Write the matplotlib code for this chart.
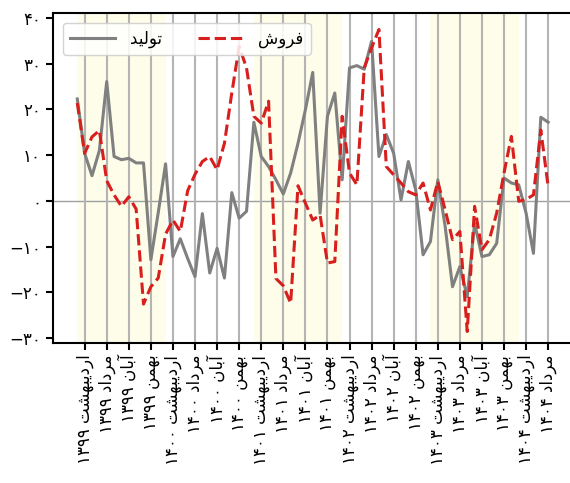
import matplotlib
matplotlib.use('Agg')
import matplotlib.pyplot as plt

plt.rcParams['font.family'] = ['DejaVu Sans']

# monthly growth, Farvardin 1399 .. Mordad 1404 (65 months)
production = [22.3, 10.4, 5.5, 11.0, 26.1, 9.7, 9.0, 9.3, 8.3, 8.3,
              -12.9, -2.6, 8.1, -12.2, -8.3, -12.6, -16.6, -2.8, -15.8, -10.4,
              -16.9, 1.8, -3.8, -2.3, 17.2, 9.7, 7.5, 4.6, 1.5, 6.1,
              12.6, 19.9, 28.1, -2.7, 18.5, 23.6, 4.6, 29.1, 29.6, 28.8,
              34.9, 9.7, 14.5, 10.4, 0.2, 8.6, 2.4, -11.8, -8.9, 4.6,
              -5.6, -18.8, -14.4, -21.0, -4.9, -12.2, -11.8, -9.3, 5.0, 3.9,
              3.5, -2.7, -11.5, 18.3, 17.2]
sales = [21.4, 10.4, 14.0, 15.4, 4.4, 1.3, -1.2, 0.9, -1.8, -22.6,
         -18.8, -16.9, -7.3, -4.2, -6.7, 2.2, 5.8, 8.6, 9.7, 6.8,
         12.6, 23.6, 33.8, 29.1, 18.5, 17.0, 21.8, -17.0, -18.6, -22.4,
         3.3, -0.5, -4.2, -3.1, -13.6, -13.3, 18.5, 6.1, 3.5, 29.1,
         33.5, 37.5, 7.5, 5.7, 3.9, 2.0, 1.3, 3.9, -2.0, 4.2,
         -2.0, -8.5, -6.7, -28.6, -1.2, -10.7, -8.5, -2.7, 6.1, 14.1,
         -0.1, 0.3, 1.3, 15.5, 3.1]
months = list(range(len(production)))

tick_pos = list(range(1, 65, 3))
tick_months = ['اردیبهشت', 'مرداد', 'آبان', 'بهمن'] * 5 + ['اردیبهشت', 'مرداد']
tick_years = ['1399'] * 4 + ['1400'] * 4 + ['1401'] * 4 + ['1402'] * 4 + ['1403'] * 4 + ['1404'] * 2
y_ticks = [-30, -20, -10, 0, 10, 20, 30, 40]
shade_spans = [(0, 12), (24, 36), (48, 60)]

# --- minimal Persian shaping (matplotlib has no RTL/complex text layout) ---
FORMS = {  # iso, final, initial, medial
    'ا': ('\uFE8D', '\uFE8E', None, None),
    'آ': ('\uFE81', '\uFE82', None, None),
    'د': ('\uFEA9', '\uFEAA', None, None),
    'ر': ('\uFEAD', '\uFEAE', None, None),
    'و': ('\uFEED', '\uFEEE', None, None),
    'ب': ('\uFE8F', '\uFE90', '\uFE91', '\uFE92'),
    'ت': ('\uFE95', '\uFE96', '\uFE97', '\uFE98'),
    'ش': ('\uFEB5', '\uFEB6', '\uFEB7', '\uFEB8'),
    'ف': ('\uFED1', '\uFED2', '\uFED3', '\uFED4'),
    'ل': ('\uFEDD', '\uFEDE', '\uFEDF', '\uFEE0'),
    'م': ('\uFEE1', '\uFEE2', '\uFEE3', '\uFEE4'),
    'ن': ('\uFEE5', '\uFEE6', '\uFEE7', '\uFEE8'),
    'ه': ('\uFEE9', '\uFEEA', '\uFEEB', '\uFEEC'),
    'ی': ('\uFBFC', '\uFBFD', '\uFEF3', '\uFEF4'),
}


def dual(c):
    return c in FORMS and FORMS[c][2] is not None


def shape(word):
    out = []
    for k, c in enumerate(word):
        if c not in FORMS:
            out.append(c)
            continue
        prev_j = k > 0 and dual(word[k - 1])
        next_j = dual(c) and k + 1 < len(word) and word[k + 1] in FORMS
        iso, fin, ini, med = FORMS[c]
        if prev_j and next_j:
            out.append(med)
        elif prev_j:
            out.append(fin)
        elif next_j:
            out.append(ini)
        else:
            out.append(iso)
    return ''.join(out[::-1])


def fa_digits(s):
    return s.translate(str.maketrans('0123456789-', '۰۱۲۳۴۵۶۷۸۹−'))


xlabels = [fa_digits(y) + ' ' + shape(m) for m, y in zip(tick_months, tick_years)]

fig = plt.figure(figsize=(5.7, 4.83), dpi=100)
ax = fig.add_axes([0.093, 0.29, 0.91, 0.683])

for a, b in shade_spans:
    ax.axvspan(a, b, color='#fdfde9', zorder=0, lw=0)

ax.axhline(0, color='#a0a0a0', lw=1, zorder=1.5)
ax.plot(months, production, color='#808080', lw=2.2, label=shape('تولید'), zorder=3)
ax.plot(months, sales, color='#d91e1e', lw=2.2, ls='--', label=shape('فروش'), zorder=4)

ax.set_xlim(-3.3, 67.2)
ax.set_ylim(-31.1, 41.1)
ax.set_xticks(tick_pos)
ax.set_xticklabels(xlabels, rotation=90, fontsize=12)
ax.set_yticks(y_ticks)
ax.set_yticklabels([fa_digits(str(v)) for v in y_ticks], fontsize=12)
ax.grid(axis='x', color='#b4b4b4', lw=1.5)
ax.tick_params(width=1.5, length=5)
for s in ['left', 'bottom', 'top']:
    ax.spines[s].set_linewidth(1.5)
ax.spines['right'].set_visible(False)

ax.legend(loc='upper left', ncol=2, fontsize=12, handlelength=2.7,
          handletextpad=0.9, columnspacing=2.2, framealpha=0.85,
          borderaxespad=0.6)

fig.savefig('out.png', dpi=100)
